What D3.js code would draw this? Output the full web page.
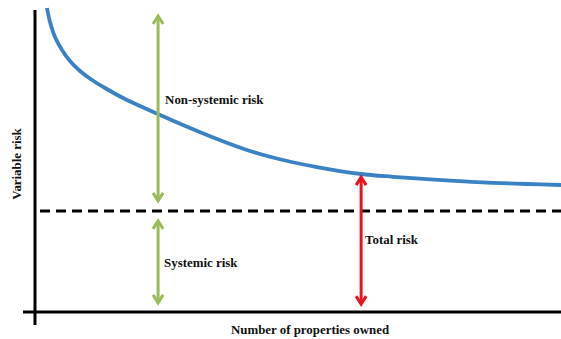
<!DOCTYPE html>
<html><head><meta charset="utf-8">
<script src="https://cdn.jsdelivr.net/npm/d3@7"></script>
<style>body{margin:0;background:#fff}svg{display:block}text{font-family:"Liberation Serif","Times New Roman",serif;font-weight:bold;font-size:12.9px;fill:#111}</style>
</head><body><svg id="c" width="561" height="339"></svg>
<script>
// Curve: number of properties (x) vs variable risk (y)
const curveX = [2.28, 2.85, 3.8, 5.13, 6.65, 8.56, 10.84, 13.31, 17.11, 23.38, 28.14, 34.6, 40.87, 47.15, 53.61, 61.98, 68.06, 74.52, 80.8, 87.07, 93.54, 100];
const curveY = [101.33, 96.67, 91.67, 87.33, 83.67, 80.33, 77.33, 74.67, 71, 66, 62.33, 57.67, 53.67, 50.67, 48.33, 46, 45.07, 44.27, 43.6, 43.07, 42.67, 42.33];
const systemicLevel = 33.7;
// annotation arrows
const arrowNames = ["Non-systemic risk", "Systemic risk", "Total risk"];
const arrowX = [23.4, 23.4, 62];
const arrowY0 = [36.7, 2.7, 2.3];
const arrowY1 = [99, 30.7, 45.3];
const arrowColors = ["#9bbb59", "#9bbb59", "#e8151e"];
const labelY = [69.3, 15, 22.7];
const xTitle = "Number of properties owned";
const yTitle = "Variable risk";

const svg = d3.select("#c");
const x = d3.scaleLinear().domain([0,100]).range([35,561]);
const y = d3.scaleLinear().domain([0,100]).range([312,12]);
const labelDx = [7, 6, 4];

// axes
svg.append("line").attr("x1",35).attr("x2",35).attr("y1",10).attr("y2",325).attr("stroke","#000").attr("stroke-width",3);
svg.append("line").attr("x1",23).attr("x2",561).attr("y1",y(0)).attr("y2",y(0)).attr("stroke","#000").attr("stroke-width",3);

// dashed systemic level
svg.append("line").attr("x1",40).attr("x2",561).attr("y1",y(systemicLevel)).attr("y2",y(systemicLevel))
  .attr("stroke","#000").attr("stroke-width",3).attr("stroke-dasharray","10,6");

// curve
const pts = curveX.map((v,i)=>[v,curveY[i]]);
svg.append("path").datum(pts).attr("fill","none").attr("stroke","#3b82c4").attr("stroke-width",3.8)
  .attr("d", d3.line().x(d=>x(d[0])).y(d=>y(d[1])).curve(d3.curveCatmullRom.alpha(0.5)));

// arrows
function head(g, px, py, dir, col){
  const L=8, W=5;
  g.append("path").attr("d",`M${px-W},${py+dir*L} L${px},${py} L${px+W},${py+dir*L}`)
   .attr("fill","none").attr("stroke",col).attr("stroke-width",3).attr("stroke-linejoin","miter").attr("stroke-linecap","butt");
}
arrowNames.forEach((n,i)=>{
  const g = svg.append("g");
  const px = x(arrowX[i]), top = y(arrowY1[i]), bot = y(arrowY0[i]);
  g.append("line").attr("x1",px).attr("x2",px).attr("y1",top+1).attr("y2",bot-1).attr("stroke",arrowColors[i]).attr("stroke-width",3);
  head(g, px, top+1, 1, arrowColors[i]);
  head(g, px, bot-1, -1, arrowColors[i]);
  svg.append("text").attr("x",px+labelDx[i]).attr("y",y(labelY[i])).text(n);
});

// titles
svg.append("text").attr("x",310).attr("y",334).attr("text-anchor","middle").text(xTitle);
svg.append("text").attr("transform","translate(21,164) rotate(-90)").attr("text-anchor","middle").text(yTitle);
</script></body></html>
